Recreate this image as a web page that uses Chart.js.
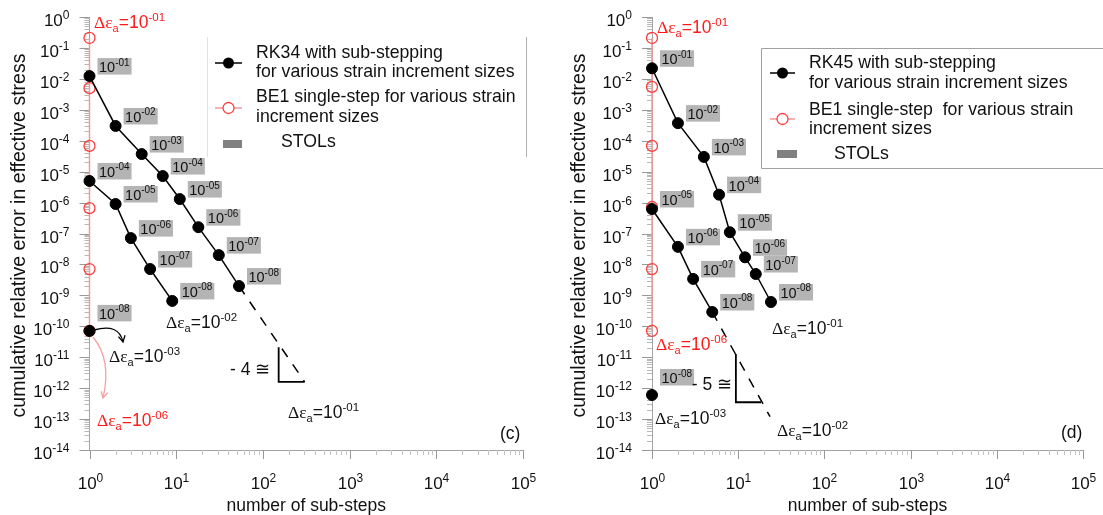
<!DOCTYPE html>
<html>
<head>
<meta charset="utf-8">
<script src="https://cdn.jsdelivr.net/npm/chart.js@4.4.0/dist/chart.umd.min.js"></script>
<style>
  body { margin: 0; background: #fff; }
  #wrap { position: relative; width: 1103px; height: 515px; overflow: hidden; }
  canvas { position: absolute; top: 0; }
</style>
</head>
<body>
<div id="wrap">
  <canvas id="chartC" width="552" height="515" style="left:0"></canvas>
  <canvas id="chartD" width="551" height="515" style="left:552px"></canvas>
</div>
<script>
const SANS = '"Liberation Sans", Arial, sans-serif';
const SERIF = '"Liberation Serif", "Times New Roman", serif';

// axis decades (exponents of the tick labels)
const xTickExp = ['0', '1', '2', '3', '4', '5'];
const yTickExp = ['0', '-1', '-2', '-3', '-4', '-5', '-6', '-7', '-8', '-9', '-10', '-11', '-12', '-13', '-14'];

// ---- panel (c): RK34 ----
const rk34StepsA = [1, 2, 4, 7, 11, 18, 31, 53];            // strain increment 1e-01
const rk34ErrA = [1.23e-2, 3.0e-4, 3.7e-5, 7.2e-6, 1.3e-6, 1.6e-7, 2.0e-8, 2.0e-9];
const rk34StolA = ['-01', '-02', '-03', '-04', '-05', '-06', '-07', '-08'];
const rk34StepsB = [1, 2, 3, 5, 9];                          // strain increment 1e-02
const rk34ErrB = [5.0e-6, 9.0e-7, 7.1e-8, 7.1e-9, 6.6e-10];
const rk34StolB = ['-04', '-05', '-06', '-07', '-08'];
const rk34StepsC = [1];                                      // strain increment 1e-03
const rk34ErrC = [7.1e-11];
const rk34StolC = ['-08'];
const be1StepsC = [1, 1, 1, 1, 1, 1];
const be1ErrC = [0.21, 5.0e-3, 6.8e-5, 6.6e-7, 7.1e-9, 7.1e-11];
const slopeStepsC = [53, 303];
const slopeErrC = [2.0e-9, 1.6e-12];
const triStepsC = [152, 152, 303];
const triErrC = [2.1e-11, 1.6e-12, 1.6e-12];

// ---- panel (d): RK45 ----
const rk45StepsA = [1, 2, 4, 6, 8, 12, 16, 24];
const rk45ErrA = [2.2e-2, 3.7e-4, 3.0e-5, 1.8e-6, 1.1e-7, 1.7e-8, 4.9e-9, 6.1e-10];
const rk45StolA = ['-01', '-02', '-03', '-04', '-05', '-06', '-07', '-08'];
const rk45StepsB = [1, 2, 3, 5];
const rk45ErrB = [6.2e-7, 3.7e-8, 3.4e-9, 2.9e-10];
const rk45StolB = ['-05', '-06', '-07', '-08'];
const rk45StepsC = [1];
const rk45ErrC = [6.0e-13];
const rk45StolC = ['-08'];
const be1StepsD = [1, 1, 1, 1, 1, 1];
const be1ErrD = [0.21, 5.5e-3, 6.8e-5, 7.2e-7, 7.1e-9, 7.1e-11];
const slopeStepsD = [5, 23.4];
const slopeErrD = [2.9e-10, 1.2e-13];
const triStepsD = [9.4, 9.4, 18.4];
const triErrD = [1.26e-11, 3.5e-13, 3.5e-13];

function pts(xs, ys) {
    return xs.map((x, i) => ({ x: x, y: ys[i] }));
}

// text made of pieces: [text, size, family, baseline shift]
function rich(ctx, x, y, parts, color, align) {
    let w = 0;
    parts.forEach(p => { ctx.font = p[1] + 'px ' + p[2]; w += ctx.measureText(p[0]).width; });
    let cx = align === 'center' ? x - w / 2 : align === 'right' ? x - w : x;
    ctx.fillStyle = color;
    ctx.textAlign = 'left';
    ctx.textBaseline = 'alphabetic';
    parts.forEach(p => {
        ctx.font = p[1] + 'px ' + p[2];
        ctx.fillText(p[0], cx, y + p[3]);
        cx += ctx.measureText(p[0]).width;
    });
}

function deltaParts(exp) {
    return [['Δε', 17.5, SERIF, 0], ['a', 11, SANS, 4], ['=10', 17.5, SANS, 0], [exp, 11.5, SANS, -7]];
}

function powParts(exp) {
    return [['10', 17, SANS, 0], [exp, 12, SANS, -7.5]];
}

function stolBox(ctx, x, y, exp) {
    ctx.font = '14.5px ' + SANS;
    const w1 = ctx.measureText('10').width;
    ctx.font = '10px ' + SANS;
    const w2 = ctx.measureText(exp).width;
    ctx.fillStyle = '#b4b4b4';
    ctx.fillRect(x, y, w1 + w2 + 3.5, 16.5);
    rich(ctx, x + 1.5, y + 14, [['10', 14.5, SANS, 0], [exp, 10, SANS, -6.5]], '#111', 'left');
}

function arrow(ctx, p0, c, p1, color) {
    ctx.save();
    ctx.strokeStyle = color;
    ctx.lineWidth = 1.3;
    ctx.beginPath();
    ctx.moveTo(p0[0], p0[1]);
    ctx.quadraticCurveTo(c[0], c[1], p1[0], p1[1]);
    ctx.stroke();
    const a = Math.atan2(p1[1] - c[1], p1[0] - c[0]);
    ctx.beginPath();
    ctx.moveTo(p1[0] - 7 * Math.cos(a - 0.5), p1[1] - 7 * Math.sin(a - 0.5));
    ctx.lineTo(p1[0], p1[1]);
    ctx.lineTo(p1[0] - 7 * Math.cos(a + 0.5), p1[1] - 7 * Math.sin(a + 0.5));
    ctx.stroke();
    ctx.restore();
}

function decor(cfg) {
    return {
        id: 'decor',
        beforeDatasetsDraw(chart) {
            // ticks and tick labels go under the markers
            const ctx = chart.ctx;
            const xs = chart.scales.x, ys = chart.scales.y;
            const area = chart.chartArea;
            ctx.save();
            ctx.lineWidth = 1;
            xTickExp.forEach((e, k) => {
                const v = Math.pow(10, Number(e));
                const px = Math.round(xs.getPixelForValue(v)) + 0.5;
                ctx.strokeStyle = '#999';
                ctx.beginPath(); ctx.moveTo(px, area.bottom); ctx.lineTo(px, area.bottom + 9); ctx.stroke();
                rich(ctx, px, area.bottom + 39, powParts(e), '#111', 'center');
                if (k < xTickExp.length - 1) {
                    for (let m = 2; m <= 9; m++) {
                        const mx = Math.round(xs.getPixelForValue(m * v)) + 0.5;
                        ctx.strokeStyle = '#c4c4c4';
                        ctx.beginPath(); ctx.moveTo(mx, area.bottom); ctx.lineTo(mx, area.bottom + 5); ctx.stroke();
                    }
                }
            });
            yTickExp.forEach((e, k) => {
                const v = Math.pow(10, Number(e));
                const py = Math.round(ys.getPixelForValue(v)) + 0.5;
                ctx.strokeStyle = '#999';
                ctx.beginPath(); ctx.moveTo(area.left, py); ctx.lineTo(area.left - 10, py); ctx.stroke();
                rich(ctx, area.left - 20, py + 8.5, powParts(e), '#111', 'right');
                if (k < yTickExp.length - 1) {
                    for (let m = 2; m <= 9; m++) {
                        const my = Math.round(ys.getPixelForValue(m * v / 10)) + 0.5;
                        ctx.strokeStyle = '#b8b8b8';
                        ctx.beginPath(); ctx.moveTo(area.left, my); ctx.lineTo(area.left - 5, my); ctx.stroke();
                    }
                }
            });
            ctx.restore();
        },
        afterDatasetsDraw(chart) {
            const ctx = chart.ctx;
            chart.data.datasets.forEach((d, i) => {
                if (!d.stol) return;
                const meta = chart.getDatasetMeta(i);
                meta.data.forEach((pt, j) => {
                    stolBox(ctx, pt.x + 8, pt.y - 18 + (d.stolDy || 0), d.stol[j]);
                });
            });
        },
        afterDraw(chart) {
            const ctx = chart.ctx;
            const area = chart.chartArea;
            ctx.save();
            // axis titles
            ctx.fillStyle = '#111';
            ctx.font = '17.5px ' + SANS;
            ctx.textAlign = 'center';
            ctx.textBaseline = 'alphabetic';
            ctx.fillText('number of sub-steps', (area.left + area.right) / 2, 511);
            ctx.save();
            ctx.translate(cfg.yTitleX, (area.top + area.bottom) / 2 + 2);
            ctx.rotate(-Math.PI / 2);
            ctx.textBaseline = 'middle';
            ctx.font = '19.5px ' + SANS;
            ctx.fillText('cumulative relative error in effective stress', 0, 0);
            ctx.restore();

            // legend
            const lg = cfg.legend;
            ctx.lineWidth = 1;
            if (lg.frame === 'sides') {
                ctx.strokeStyle = '#e2e2e2';
                ctx.beginPath(); ctx.moveTo(lg.x1 + 0.5, lg.y1); ctx.lineTo(lg.x1 + 0.5, lg.y2); ctx.stroke();
                ctx.strokeStyle = '#b0b0b0';
                ctx.beginPath(); ctx.moveTo(lg.x2 + 0.5, lg.y1); ctx.lineTo(lg.x2 + 0.5, lg.y2); ctx.stroke();
            } else {
                ctx.strokeStyle = '#a0a0a0';
                ctx.beginPath();
                ctx.moveTo(lg.x2, lg.y1 + 0.5); ctx.lineTo(lg.x1 + 0.5, lg.y1 + 0.5);
                ctx.lineTo(lg.x1 + 0.5, lg.y2 + 0.5); ctx.lineTo(lg.x2, lg.y2 + 0.5);
                ctx.stroke();
            }
            const mx = (lg.markX[0] + lg.markX[1]) / 2;
            ctx.strokeStyle = '#000'; ctx.lineWidth = 1.5;
            ctx.beginPath(); ctx.moveTo(lg.markX[0], lg.rkY); ctx.lineTo(lg.markX[1], lg.rkY); ctx.stroke();
            ctx.fillStyle = '#000';
            ctx.beginPath(); ctx.arc(mx, lg.rkY, 5.5, 0, Math.PI * 2); ctx.fill();
            ctx.strokeStyle = '#f59a9a';
            ctx.beginPath(); ctx.moveTo(lg.markX[0], lg.beY); ctx.lineTo(lg.markX[1], lg.beY); ctx.stroke();
            ctx.fillStyle = '#fff'; ctx.strokeStyle = '#ff3c3c'; ctx.lineWidth = 1.3;
            ctx.beginPath(); ctx.arc(mx, lg.beY, 5.5, 0, Math.PI * 2); ctx.fill(); ctx.stroke();
            ctx.fillStyle = '#808080';
            ctx.fillRect(lg.rect[0], lg.rect[1], lg.rect[2], lg.rect[3]);
            ctx.fillStyle = '#111';
            ctx.font = '17.7px ' + SANS;
            ctx.textAlign = 'left';
            ctx.textBaseline = 'middle';
            lg.lines.forEach(l => ctx.fillText(l[0], lg.textX, l[1]));
            ctx.fillText('STOLs', lg.stols[0], lg.stols[1]);

            // annotations
            cfg.notes.forEach(n => rich(ctx, n.x, n.y + 6, n.parts, n.color || '#111', n.align || 'left'));
            (cfg.arrows || []).forEach(a => arrow(ctx, a.p0, a.c, a.p1, a.color));
            ctx.restore();
        }
    };
}

function makePanel(id, cfg) {
    const ds = [];
    ds.push({
        data: pts(cfg.be1X, cfg.be1Y), borderColor: '#f59a9a', borderWidth: 1.5,
        pointRadius: 5.5, pointBorderWidth: 1.3, pointBorderColor: '#ff3c3c',
        pointBackgroundColor: 'rgba(255,255,255,0)', order: 9, clip: false
    });
    cfg.rk.forEach((s, i) => ds.push({
        data: pts(s.x, s.y), stol: s.stol, stolDy: s.dy || 0,
        borderColor: '#000', borderWidth: 1.5, pointRadius: 5.5,
        pointBackgroundColor: '#000', pointBorderColor: '#000', pointBorderWidth: 1,
        showLine: s.x.length > 1, order: 1 + i, clip: false
    }));
    ds.push({ data: pts(cfg.slopeX, cfg.slopeY), borderColor: '#000', borderWidth: 1.5, borderDash: [10, 9], pointRadius: 0, order: 6, clip: false });
    ds.push({ data: pts(cfg.triX, cfg.triY), borderColor: '#000', borderWidth: 1.8, pointRadius: 0, order: 6, clip: false });

    const axis = (min, max, fit) => ({
        type: 'logarithmic', min: min, max: max,
        ticks: { display: false },
        grid: { drawOnChartArea: false, drawTicks: false },
        border: { color: '#a3a3a3', width: 1 },
        afterFit: fit
    });

    new Chart(document.getElementById(id), {
        type: 'line',
        data: { datasets: ds },
        options: {
            responsive: false,
            animation: false,
            devicePixelRatio: 1,
            layout: { padding: cfg.pad },
            elements: { line: { tension: 0 } },
            plugins: { legend: { display: false }, tooltip: { enabled: false } },
            scales: {
                x: axis(1, 1e5, s => { s.height = 0; }),
                y: axis(1e-14, 1, s => { s.width = 0; })
            }
        },
        plugins: [decor(cfg)]
    });
}

makePanel('chartC', {
    pad: { left: 89.5, top: 17, right: 29, bottom: 65 },
    yTitleX: 20,
    be1X: be1StepsC, be1Y: be1ErrC,
    rk: [
        { x: rk34StepsA, y: rk34ErrA, stol: rk34StolA },
        { x: rk34StepsB, y: rk34ErrB, stol: rk34StolB },
        { x: rk34StepsC, y: rk34ErrC, stol: rk34StolC, dy: -8 }
    ],
    slopeX: slopeStepsC, slopeY: slopeErrC,
    triX: triStepsC, triY: triErrC,
    legend: {
        frame: 'sides', x1: 207, x2: 526, y1: 37, y2: 157,
        markX: [215, 242], rkY: 63, beY: 108, rect: [223, 140, 19, 8],
        textX: 256,
        lines: [['RK34 with sub-stepping', 53], ['for various strain increment sizes', 72],
                ['BE1 single-step for various strain', 97], ['increment sizes', 117]],
        stols: [281, 142]
    },
    notes: [
        { x: 94, y: 22, parts: deltaParts('-01'), color: '#ff1a1a' },
        { x: 166, y: 322, parts: deltaParts('-02') },
        { x: 109, y: 356, parts: deltaParts('-03') },
        { x: 97, y: 420, parts: deltaParts('-06'), color: '#ff1a1a' },
        { x: 230, y: 369, parts: [['- 4 ≅', 17.5, SANS, 0]] },
        { x: 288, y: 412, parts: deltaParts('-01') },
        { x: 500, y: 433, parts: [['(c)', 17.5, SANS, 0]] }
    ],
    arrows: [
        { p0: [94, 330], c: [119, 323], p1: [123, 342], color: '#000' },
        { p0: [93, 337], c: [112, 360], p1: [103, 398], color: '#f7a0a0' }
    ]
});

makePanel('chartD', {
    pad: { left: 100, top: 17, right: 20, bottom: 65 },
    yTitleX: 28,
    be1X: be1StepsD, be1Y: be1ErrD,
    rk: [
        { x: rk45StepsA, y: rk45ErrA, stol: rk45StolA },
        { x: rk45StepsB, y: rk45ErrB, stol: rk45StolB },
        { x: rk45StepsC, y: rk45ErrC, stol: rk45StolC, dy: -8 }
    ],
    slopeX: slopeStepsD, slopeY: slopeErrD,
    triX: triStepsD, triY: triErrD,
    legend: {
        frame: 'box', x1: 209, x2: 551, y1: 48, y2: 168,
        markX: [218, 243], rkY: 73, beY: 119, rect: [225, 150, 20, 8],
        textX: 257,
        lines: [['RK45 with sub-stepping', 63], ['for various strain increment sizes', 83],
                ['BE1 single-step  for various strain', 110], ['increment sizes', 129]],
        stols: [282, 154]
    },
    notes: [
        { x: 105, y: 27, parts: deltaParts('-01'), color: '#ff1a1a' },
        { x: 104, y: 344, parts: deltaParts('-06'), color: '#ff1a1a' },
        { x: 220, y: 328, parts: deltaParts('-01') },
        { x: 180, y: 384, parts: [['- 5 ≅', 17.5, SANS, 0]], align: 'right' },
        { x: 103, y: 418, parts: deltaParts('-03') },
        { x: 225, y: 430, parts: deltaParts('-02') },
        { x: 509, y: 432, parts: [['(d)', 17.5, SANS, 0]] }
    ]
});
</script>
</body>
</html>
